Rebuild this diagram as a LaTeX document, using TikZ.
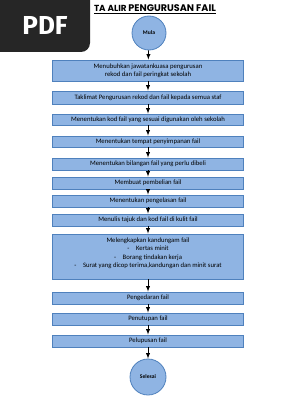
\documentclass[tikz,border=0pt]{standalone}
\usepackage{fontspec}
\setmainfont{Carlito}
\newfontfamily\tajukfont{Poppins}
\newfontfamily\badgefont{Fira Sans}
\usepackage{xcolor}
\usetikzlibrary{calc, shapes.geometric, positioning}

\definecolor{kotak}{RGB}{143,180,227}
\definecolor{garis}{RGB}{79,129,189}
\definecolor{lencana}{RGB}{38,38,38}

\tikzset{
    langkah/.style={draw=garis, fill=kotak, line width=0.8pt, minimum width=191pt,
        minimum height=12pt, inner sep=1pt, align=center, font=\fontsize{6.7}{8.2}\selectfont},
    bulat/.style={circle, draw=garis, fill=kotak, line width=0.8pt, inner sep=0pt,
        font=\fontsize{5.6}{7}\selectfont\bfseries},
    panah/.style={->, line width=0.9pt}
}

\begin{document}
\begin{tikzpicture}[>=latex, x=1pt, y=-1pt]
    \useasboundingbox (0,0) rectangle (298,396);

    % Tajuk carta
    \node[font=\tajukfont\bfseries] (tajuk) at (155,9) {\underline{{\fontsize{8.8}{9}\selectfont TA ALIR }{\fontsize{9.6}{10}\selectfont PENGURUSAN FAIL}}};

    % Mula
    \node[bulat, minimum size=34pt] (mula) at (149,33) {Mula};

    % Langkah-langkah pengurusan fail
    \node[langkah, minimum height=21pt] (b1) at (148,70.5) {Menubuhkan jawatankuasa pengurusan\\rekod dan fail peringkat sekolah};
    \node[langkah, minimum height=13pt] (b2) at (148,97.5) {Taklimat Pengurusan rekod dan fail kepada semua staf};
    \node[langkah, minimum height=11pt] (b3) at (148,119.5) {Menentukan kod fail yang sesuai digunakan oleh sekolah};
    \node[langkah, minimum height=11pt] (b4) at (148,141.5) {Menentukan tempat penyimpanan fail};
    \node[langkah] (b5) at (148,164) {Menentukan bilangan fail yang perlu dibeli};
    \node[langkah] (b6) at (148,183) {Membuat pembelian fail};
    \node[langkah] (b7) at (148,201) {Menentukan pengelasan fail};
    \node[langkah] (b8) at (148,220) {Menulis tajuk dan kod fail di kulit fail};
    \node[langkah, minimum height=45pt, text depth=7.7pt, font=\fontsize{6.7}{8.4}\selectfont] (b9) at (148,256.5) {Melengkapkan kandungam fail\\
        -\quad Kertas minit\\
        -\quad Borang tindakan kerja\\
        -\quad Surat yang dicop terima,kandungan dan minit surat};
    \node[langkah] (b10) at (148,298) {Pengedaran fail};
    \node[langkah] (b11) at (148,319) {Penutupan fail};
    \node[langkah] (b12) at (148,341) {Pelupusan fail};

    % Selesai
    \node[bulat, minimum size=36pt] (selesai) at (148,377) {Selesai};

    % Anak panah antara langkah
    \draw[panah] (mula) -- (b1);
    \draw[panah] (b1) -- (b2);
    \draw[panah] (b2) -- (b3);
    \draw[panah] (b3) -- (b4);
    \draw[panah] (b4) -- (b5);
    \draw[panah] (b5) -- (b6);
    \draw[panah] (b6) -- (b7);
    \draw[panah] (b7) -- (b8);
    \draw[panah] (b8) -- (b9);
    \draw[panah] (b9) -- (b10);
    \draw[panah] (b10) -- (b11);
    \draw[panah] (b11) -- (b12);
    \draw[panah] (b12) -- (selesai);

    % Lencana PDF di penjuru kiri atas
    \begin{scope}
        \clip (0,0) rectangle (298,396);
        \fill[lencana, rounded corners=9pt] (-20,-20) rectangle (90,52);
    \end{scope}
    \node[text=white, font=\badgefont\bfseries\fontsize{26}{26}\selectfont] (pdf) at (45,25.5) {PDF};
\end{tikzpicture}
\end{document}
